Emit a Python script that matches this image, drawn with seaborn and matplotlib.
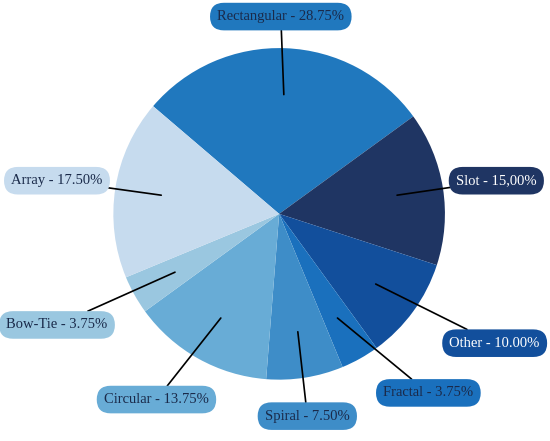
import numpy as np
import matplotlib
matplotlib.use("Agg")
import matplotlib.pyplot as plt
import seaborn as sns

categories = ["Rectangular", "Slot", "Other", "Fractal", "Spiral", "Circular", "Bow-Tie", "Array"]
values = [28.75, 15.00, 10.00, 3.75, 7.50, 13.75, 3.75, 17.50]
value_labels = ["28.75%", "15,00%", "10.00%", "3.75%", "7.50%", "13.75%", "3.75%", "17.50%"]
colors = ["#2078be", "#1f3563", "#124f9c", "#1a70bd", "#3e8dc8", "#68acd6", "#9ac7e0", "#c6dbee"]
text_colors = ["#1a2a4a", "white", "white", "#1a2a4a", "#1a2a4a", "#1a2a4a", "#1a2a4a", "#1a2a4a"]
label_pos = [(0.01, 1.19), (1.31, 0.20), (1.30, -0.78), (0.90, -1.08),
             (0.17, -1.22), (-0.74, -1.12), (-1.34, -0.67), (-1.34, 0.20)]

sns.set_theme(style="white")
plt.rcParams['font.family'] = ['Liberation Serif', 'DejaVu Serif']

fig = plt.figure(figsize=(5.5, 4.41), dpi=100)
ax = fig.add_axes([0, 0, 1, 1])
wedges, _ = ax.pie(values, colors=sns.color_palette(colors), startangle=139.5,
                   counterclock=False, radius=1.0, wedgeprops=dict(linewidth=0))

for w, cat, vl, tc, pos in zip(wedges, categories, value_labels, text_colors, label_pos):
    ang = np.deg2rad((w.theta1 + w.theta2) / 2)
    x0, y0 = 0.72 * np.cos(ang), 0.72 * np.sin(ang)
    ax.annotate(f"{cat} - {vl}", xy=(x0, y0), xytext=pos, ha="center", va="center",
                fontsize=10.5, color=tc,
                bbox=dict(boxstyle="round,pad=0.5,rounding_size=0.95", fc=w.get_facecolor(), ec="none"),
                arrowprops=dict(arrowstyle="-", color="black", lw=1.2, shrinkA=0, shrinkB=0))

ax.set_xlim(-1.68, 1.63)
ax.set_ylim(-1.37, 1.29)
ax.set_aspect("equal")
ax.axis("off")
fig.savefig("out.png", dpi=100)
